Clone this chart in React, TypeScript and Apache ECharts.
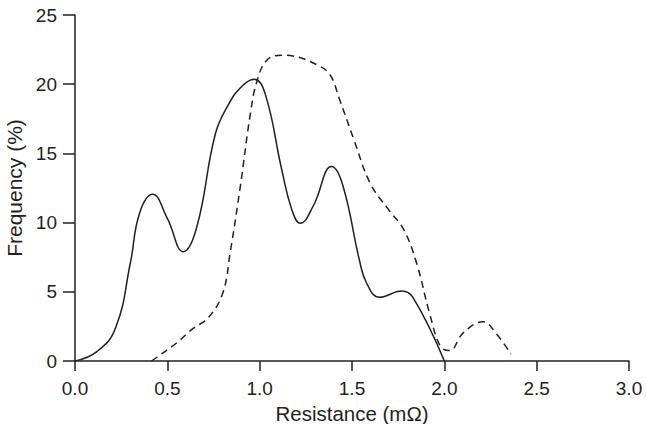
import React, { useEffect, useRef } from "react";
import * as echarts from "echarts";

const xTicks = [0, 0.5, 1.0, 1.5, 2.0, 2.5, 3.0];
const yTicks = [0, 5, 10, 15, 20, 25];

const solidSeries: [number, number][] = [
  [0, 0], [0.12, 0.7], [0.22, 2.4], [0.3, 7.1], [0.35, 10.7], [0.42, 12.05],
  [0.5, 10.3], [0.587, 7.9], [0.66, 9.7], [0.76, 16.4], [0.83, 18.5], [0.9, 19.8],
  [0.97, 20.35], [1.03, 19.3], [1.12, 13.8], [1.175, 10.9], [1.22, 9.95], [1.29, 11.2],
  [1.39, 14.05], [1.45, 12.7], [1.54, 7.3], [1.58, 5.6], [1.65, 4.6], [1.77, 5.06],
  [1.83, 4.6], [2.0, 0],
];

const dashedSeries: [number, number][] = [
  [0.415, 0], [0.46, 0.43], [0.55, 1.3], [0.64, 2.36], [0.72, 3.1], [0.8, 4.9],
  [0.84, 7.8], [0.895, 12.6], [0.95, 17.9], [0.985, 20.2], [1.04, 21.75], [1.12, 22.1],
  [1.18, 22.04], [1.31, 21.4], [1.38, 20.7], [1.43, 19.0], [1.51, 16.0], [1.6, 12.8],
  [1.7, 10.9], [1.78, 9.5], [1.85, 7.06], [1.92, 3.45], [1.98, 1.03], [2.03, 0.75],
  [2.1, 2.0], [2.21, 2.84], [2.28, 2.0], [2.36, 0.5],
];

const xName = "Resistance (mΩ)";
const yName = "Frequency (%)";

export default function App() {
  const ref = useRef<HTMLDivElement>(null);
  useEffect(() => {
    document.body.style.margin = "0";
    const chart = echarts.init(ref.current!, null, { renderer: "svg" });
    const ink = "#231f20";
    const font = "'Liberation Sans', Arial, sans-serif";
    chart.setOption({
      animation: false,
      backgroundColor: "#ffffff",
      grid: {
        left: 75, right: 17, top: 15, bottom: 63,
        containLabel: false, outerBoundsMode: "none",
      },
      xAxis: {
        type: "value",
        min: xTicks[0],
        max: xTicks[xTicks.length - 1],
        interval: 0.5,
        name: xName,
        nameLocation: "middle",
        nameGap: 39,
        nameTextStyle: { color: ink, fontSize: 20.5, fontFamily: font },
        axisLine: { show: true, lineStyle: { color: ink, width: 1.5 } },
        axisTick: { show: true, length: 10, lineStyle: { color: ink, width: 1.5 } },
        axisLabel: {
          color: ink, fontSize: 19, fontFamily: font, margin: 18,
          formatter: (v: number) => v.toFixed(1),
        },
        splitLine: { show: false },
      },
      yAxis: {
        type: "value",
        min: yTicks[0],
        max: yTicks[yTicks.length - 1],
        interval: 5,
        name: yName,
        nameLocation: "middle",
        nameGap: 49,
        nameTextStyle: { color: ink, fontSize: 21, fontFamily: font },
        axisLine: { show: true, lineStyle: { color: ink, width: 1.5 } },
        axisTick: { show: true, length: 12, lineStyle: { color: ink, width: 1.5 } },
        axisLabel: { color: ink, fontSize: 19, fontFamily: font, margin: 18 },
        splitLine: { show: false },
      },
      series: [
        {
          type: "line",
          data: solidSeries,
          smooth: 0.45,
          showSymbol: false,
          lineStyle: { color: ink, width: 1.5, type: "solid" },
        },
        {
          type: "line",
          data: dashedSeries,
          smooth: 0.4,
          showSymbol: false,
          lineStyle: { color: ink, width: 1.5, type: [7, 5] },
        },
      ],
    });
    return () => chart.dispose();
  }, []);
  return (
    <div
      ref={ref}
      style={{ position: "absolute", left: 0, top: 0, width: 646, height: 424 }}
    />
  );
}
